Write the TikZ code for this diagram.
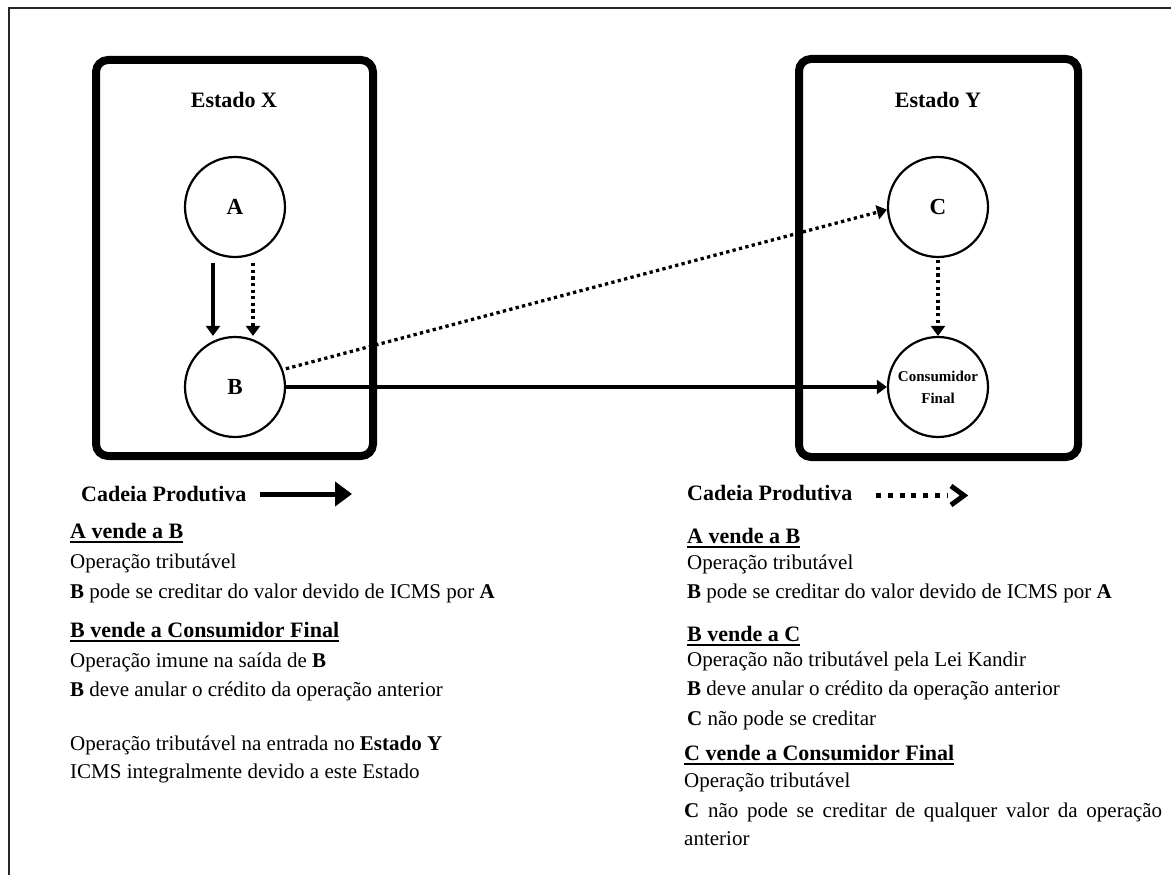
\documentclass[tikz,border=0pt]{standalone}
\usepackage{fontspec}
\setmainfont{Liberation Serif}
\usetikzlibrary{arrows.meta,calc}
% heavy underline for the section headings
\newcommand\ulbox[1]{\setbox0\hbox{#1}\rlap{\rule[-4.5pt]{\wd0}{1.6pt}}\box0}
\begin{document}
\begin{tikzpicture}[x=1pt,y=-1pt,
  frame/.style={line width=1.5pt, draw=black!85},
  statebox/.style={line width=8pt, rounded corners=12pt},
  statename/.style={inner sep=0pt, anchor=base, font=\fontsize{22}{26}\selectfont\bfseries},
  firm/.style={circle, draw, line width=2.2pt, minimum size=100pt, inner sep=0pt,
    font=\fontsize{23}{24}\selectfont\bfseries},
  solidflow/.style={line width=3.2pt, -{Triangle[width=14pt,length=10pt]}},
  dotflow/.style={line width=3.3pt, dash pattern=on 3.3pt off 3.3pt,
    -{Triangle[width=14pt,length=10pt]}},
  body/.style={anchor=base west, inner sep=0pt, font=\fontsize{21}{25}\selectfont},
  head/.style={anchor=base west, inner sep=0pt, font=\fontsize{22}{26}\selectfont\bfseries},
]
\useasboundingbox (0,0) rectangle (1171,875);

% page frame (top and left edges)
\draw[frame] (9,875) -- (9,8) -- (1171,8);

% the two states
\draw[statebox] (96,60) rectangle (373,456);
\draw[statebox] (799,59) rectangle (1078,457);
\node[statename] (sx) at (234,107) {Estado X};
\node[statename] (sy) at (938,107) {Estado Y};

% firms
\node[firm] (A) at (235,207) {A};
\node[firm] (B) at (235,387) {B};
\node[firm] (C) at (938,207) {C};
\node[firm, font=\fontsize{15}{22}\selectfont\bfseries, align=center] (CF) at (938,387) {Consumidor\\Final};

% flows
\draw[solidflow] ([xshift=-22pt,yshift=-5pt]A.south) -- ([xshift=-22pt]B.north);
\draw[dotflow] ([xshift=18pt,yshift=-5pt]A.south) -- ([xshift=18pt]B.north);
\draw[dotflow, shorten <=3pt] (B.20) -- (C.183);
\draw[solidflow] (B.east) -- (CF.west);
\draw[dotflow] ([yshift=-2pt]C.south) -- (CF.north);

% legend: left column
\node[head] (lcad) at (81,501) {Cadeia Produtiva};
\coordinate (ls0) at (260,494);
\coordinate (ls1) at (352,494);
\draw[line width=5pt, -{Triangle[width=24pt,length=17pt]}] (ls0) -- (ls1);
\node[head] (l1) at (70,538) {\ulbox{A vende a B}};
\node[body] (l2) at (70,568) {Operação tributável};
\node[body] (l3) at (70,598) {\textbf{B} pode se creditar do valor devido de ICMS por \textbf{A}};
\node[head] (l4) at (70,637) {\ulbox{B vende a Consumidor Final}};
\node[body] (l5) at (70,667) {Operação imune na saída de \textbf{B}};
\node[body] (l6) at (70,696) {\textbf{B} deve anular o crédito da operação anterior};
\node[body] (l7) at (70,750) {Operação tributável na entrada no \textbf{Estado Y}};
\node[body] (l8) at (70,778) {ICMS integralmente devido a este Estado};

% legend: right column
\node[head] (rcad) at (687,500) {Cadeia Produtiva};
\coordinate (rd0) at (876,495);
\coordinate (rd1) at (947,495);
\draw[line width=5pt, dash pattern=on 5pt off 6.8pt] (rd0) -- (rd1);
\coordinate (rv0) at (951,486);
\coordinate (rv1) at (964,495.5);
\coordinate (rv2) at (951,505);
\draw[line width=5pt, miter limit=4] (rv0) -- (rv1) -- (rv2);
\node[head] (r1) at (687,543) {\ulbox{A vende a B}};
\node[body] (r2) at (687,569) {Operação tributável};
\node[body] (r3) at (687,598) {\textbf{B} pode se creditar do valor devido de ICMS por \textbf{A}};
\node[head] (r4) at (687,641) {\ulbox{B vende a C}};
\node[body] (r5) at (687,666) {Operação não tributável pela Lei Kandir};
\node[body] (r6) at (687,695) {\textbf{B} deve anular o crédito da operação anterior};
\node[body] (r7) at (687,725) {\textbf{C} não pode se creditar};
\node[head] (r8) at (684,760) {\ulbox{C vende a Consumidor Final}};
\node[body] (r9) at (684,787) {Operação tributável};
\node[body] (r10) at (684,817) {\makebox[478pt][s]{\textbf{C} não pode se creditar de qualquer valor da operação}};
\node[body] (r11) at (684,845) {anterior};
\end{tikzpicture}
\end{document}
